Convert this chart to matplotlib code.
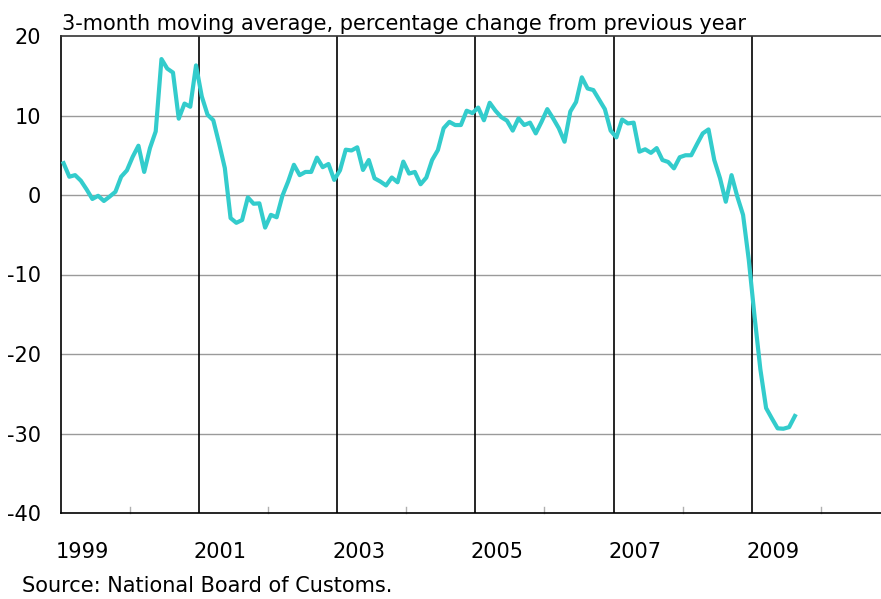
import matplotlib
matplotlib.use("Agg")
import matplotlib.pyplot as plt
import numpy as np

plt.rcParams['font.family'] = ['DejaVu Sans']

# Monthly data, Jan 1999 - Aug 2009 (3-month moving average, % change y/y)
start_year = 1999
values = [
    4.0, 2.3, 2.5, 1.8, 0.7, -0.5, -0.1, -0.75, -0.2, 0.4, 2.3, 3.1,          # 1999
    4.8, 6.2, 2.9, 5.9, 8.0, 17.1, 15.9, 15.4, 9.6, 11.5, 11.1, 16.3,         # 2000
    12.4, 10.1, 9.4, 6.5, 3.4, -2.9, -3.5, -3.15, -0.3, -1.1, -1.05, -4.1,    # 2001
    -2.5, -2.8, -0.1, 1.7, 3.8, 2.5, 2.9, 2.9, 4.7, 3.5, 3.9, 1.9,            # 2002
    3.1, 5.7, 5.6, 6.0, 3.15, 4.4, 2.1, 1.7, 1.2, 2.2, 1.6, 4.2,              # 2003
    2.7, 2.9, 1.35, 2.2, 4.4, 5.65, 8.4, 9.2, 8.8, 8.8, 10.6, 10.3,           # 2004
    11.0, 9.4, 11.6, 10.6, 9.8, 9.35, 8.1, 9.65, 8.8, 9.1, 7.75, 9.2,         # 2005
    10.8, 9.65, 8.4, 6.7, 10.5, 11.7, 14.8, 13.4, 13.2, 12.0, 10.8, 8.1,      # 2006
    7.25, 9.5, 9.0, 9.1, 5.45, 5.75, 5.3, 5.9, 4.4, 4.15, 3.35, 4.75,         # 2007
    5.0, 5.0, 6.4, 7.75, 8.25, 4.4, 2.1, -0.85, 2.5, -0.2, -2.5, -8.2,        # 2008
    -15.3, -21.9, -26.8, -28.1, -29.35, -29.4, -29.2, -27.8,                  # 2009
]
year_labels = ['1999', '2001', '2003', '2005', '2007', '2009']
y_ticks = [-40, -30, -20, -10, 0, 10, 20]
title = '3-month moving average, percentage change from previous year'
source = 'Source: National Board of Customs.'

x = start_year + (np.arange(len(values)) + 0.5) / 12.0

FS = 15

fig = plt.figure(figsize=(8.81, 5.99), dpi=100)
ax = fig.add_axes([60.7 / 881, 1 - 513 / 599, 1 - 60.7 / 881, (513 - 36) / 599])

ax.set_xlim(1999, 1999 + (881 - 60.7) / 69.1)
ax.set_ylim(-40, 20)

# horizontal grid
for v in y_ticks[1:-1]:
    ax.axhline(v, color='#9a9a9a', lw=1.0, zorder=1)
# vertical year separators
label_years = [int(s) for s in year_labels]
for yr in label_years[1:]:
    ax.axvline(yr, color='black', lw=1.2, zorder=1)
# small ticks at intermediate years
for yr in range(2000, 2011, 2):
    ax.plot([yr, yr], [-40, -39.2], color='#b0b0b0', lw=1.0, zorder=1, clip_on=False)

ax.plot(x, values, color='#33CCCC', lw=3.0, zorder=3, solid_joinstyle='round')

ax.spines['right'].set_visible(False)
ax.spines['top'].set_color('#333333')
ax.spines['left'].set_color('black')
ax.spines['bottom'].set_color('black')
for s in ['top', 'left', 'bottom']:
    ax.spines[s].set_linewidth(1.2)

ax.set_yticks(y_ticks)
ax.set_yticklabels([str(v) for v in y_ticks], fontsize=FS)
ax.tick_params(axis='y', length=0, pad=14)
ax.set_xticks([yr + 0.31 for yr in label_years])
ax.set_xticklabels(year_labels, fontsize=FS)
ax.tick_params(axis='x', length=0, pad=21)

fig.text(62 / 881, 1 - 30 / 599, title, fontsize=FS, ha='left', va='baseline')
fig.text(22 / 881, 1 - 592 / 599, source, fontsize=FS, ha='left', va='baseline')

fig.savefig('out.png', dpi=100)
